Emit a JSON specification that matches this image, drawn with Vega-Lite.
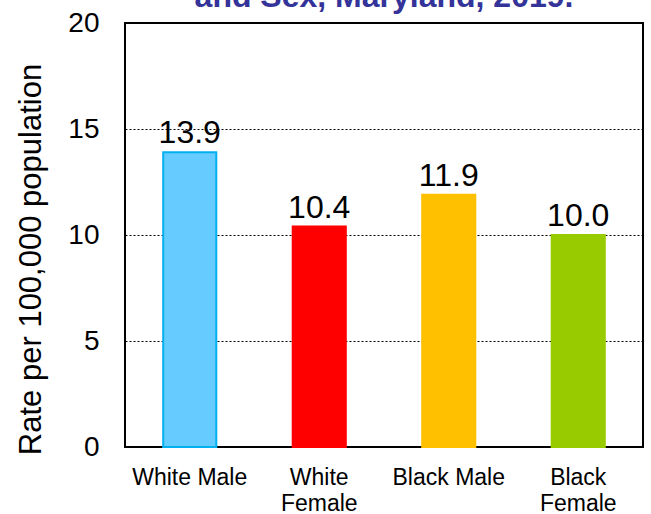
{
  "$schema": "https://vega.github.io/schema/vega-lite/v6.json",
  "autosize": {"type": "none"},
  "width": 518,
  "height": 424,
  "padding": {"left": 125, "top": 23, "right": 8, "bottom": 67},
  "background": "white",
  "title": {
    "text": "and Sex, Maryland, 2019.",
    "font": "Liberation Sans",
    "fontSize": 32,
    "fontWeight": "bold",
    "color": "#333399",
    "anchor": "middle",
    "frame": "group",
    "baseline": "alphabetic",
    "offset": -30
  },
  "config": {
    "view": {"stroke": "black", "strokeWidth": 2},
    "font": "Liberation Sans"
  },
  "data": {
    "values": [
      {"group": "White Male", "rate": 13.9},
      {"group": "White Female", "rate": 10.4},
      {"group": "Black Male", "rate": 11.9},
      {"group": "Black Female", "rate": 10.0}
    ]
  },
  "encoding": {
    "x": {
      "field": "group",
      "type": "nominal",
      "sort": null,
      "scale": {"paddingInner": 0.59, "paddingOuter": 0.295},
      "axis": {
        "title": null,
        "labelAngle": 0,
        "labelFont": "Liberation Sans",
        "labelFontSize": 23,
        "labelColor": "black",
        "labelPadding": 19,
        "labelBaseline": "top",
        "labelLineHeight": 26,
        "labelExpr": "datum.value == 'White Male' || datum.value == 'Black Male' ? datum.value : split(datum.value, ' ')",
        "ticks": false,
        "domain": false
      }
    },
    "y": {
      "field": "rate",
      "type": "quantitative",
      "scale": {"domain": [0, 20]},
      "axis": {
        "title": "Rate per 100,000 population",
        "titleFont": "Liberation Sans",
        "titleFontSize": 31,
        "titleFontWeight": "normal",
        "titleColor": "black",
        "titleAngle": -90,
        "titleAlign": "center",
        "titleBaseline": "alphabetic",
        "titleX": -85,
        "titleY": 236,
        "values": [0, 5, 10, 15, 20],
        "labelFont": "Liberation Sans",
        "labelFontSize": 28,
        "labelColor": "black",
        "labelPadding": 26,
        "ticks": false,
        "domain": false,
        "grid": true,
        "gridColor": "black",
        "gridDash": [2, 2],
        "gridWidth": 1,
        "gridOpacity": 1
      }
    }
  },
  "layer": [
    {
      "mark": {"type": "bar", "strokeWidth": 2},
      "encoding": {
        "color": {
          "field": "group",
          "type": "nominal",
          "scale": {
            "domain": ["White Male", "White Female", "Black Male", "Black Female"],
            "range": ["#66CCFF", "#FF0000", "#FFC000", "#99CC00"]
          },
          "legend": null
        },
        "stroke": {
          "field": "group",
          "type": "nominal",
          "scale": {
            "domain": ["White Male", "White Female", "Black Male", "Black Female"],
            "range": ["#00B0F0", "#FF0000", "#FFC000", "#99CC00"]
          },
          "legend": null
        }
      }
    },
    {
      "mark": {"type": "text", "baseline": "alphabetic", "dy": -9, "fontSize": 32, "font": "Liberation Sans", "color": "black"},
      "encoding": {
        "text": {"field": "rate", "type": "quantitative", "format": ".1f"}
      }
    }
  ]
}
